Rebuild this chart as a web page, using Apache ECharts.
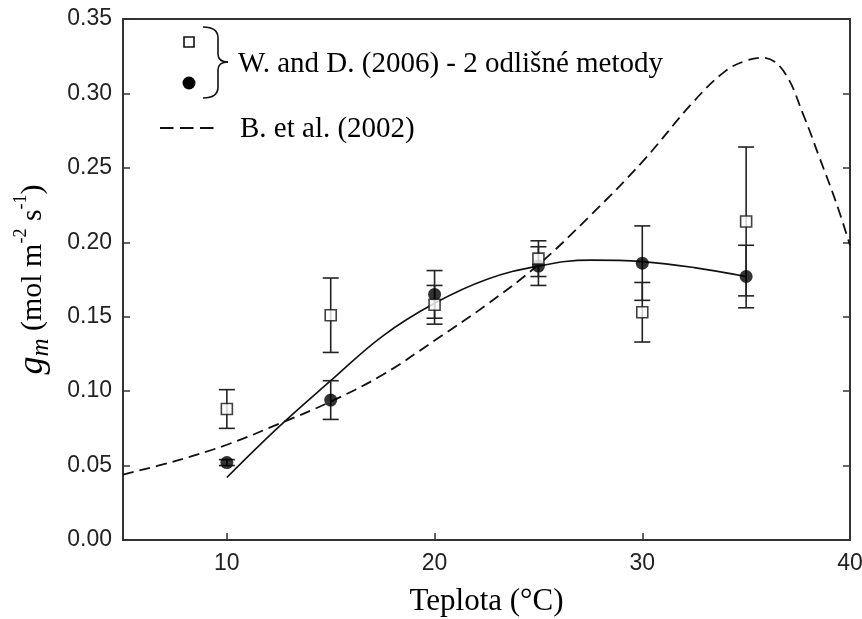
<!DOCTYPE html>
<html>
<head>
<meta charset="utf-8">
<script src="https://cdn.jsdelivr.net/npm/echarts@6/dist/echarts.min.js"></script>
<style>
  html, body { margin: 0; padding: 0; background: #fff; }
  #chart { width: 862px; height: 619px; }
</style>
</head>
<body>
<div id="chart"></div>
<script>
// measured points (W. and D. 2006), two methods
var temps = [10, 15, 20, 25, 30, 35];
var squareVals = [0.088, 0.151, 0.158, 0.189, 0.153, 0.214];
var squareErr = [0.013, 0.025, 0.013, 0.012, 0.020, 0.050];
var circleVals = [0.052, 0.094, 0.165, 0.184, 0.186, 0.177];
var circleErr = [0.002, 0.013, 0.016, 0.013, 0.025, 0.021];

// fitted curve through the filled points
var fitX = [10, 12.5, 15, 17.5, 20, 22.5, 25, 27.5, 30, 32.5, 35];
var fitY = [0.042, 0.076, 0.107, 0.137, 0.159, 0.175, 0.184, 0.188, 0.187, 0.183, 0.177];

// B. et al. (2002) model curve
var modelX = [5, 7.5, 10, 12.5, 15, 17.5, 20, 22.5, 25, 27.5, 30, 32.5, 34, 35, 35.8, 36.8, 37.8, 38.5, 39.3, 40];
var modelY = [0.044, 0.053, 0.064, 0.078, 0.093, 0.111, 0.134, 0.158, 0.185, 0.218, 0.254, 0.295, 0.315, 0.322, 0.324, 0.315, 0.284, 0.258, 0.228, 0.198];

var yTicks = ['0.00', '0.05', '0.10', '0.15', '0.20', '0.25', '0.30', '0.35'];

function pairs(xs, ys) {
  return xs.map(function (x, i) { return [x, ys[i]]; });
}
function triples(xs, ys, es) {
  return xs.map(function (x, i) { return [x, ys[i], es[i]]; });
}

function errorBars(params, api) {
  var x = api.value(0), y = api.value(1), e = api.value(2);
  var hi = api.coord([x, y + e]);
  var lo = api.coord([x, y - e]);
  var w = 8;
  var st = { stroke: '#222', lineWidth: 1.6 };
  return {
    type: 'group',
    children: [
      { type: 'line', shape: { x1: hi[0], y1: hi[1], x2: lo[0], y2: lo[1] }, style: st },
      { type: 'line', shape: { x1: hi[0] - w, y1: hi[1], x2: hi[0] + w, y2: hi[1] }, style: st },
      { type: 'line', shape: { x1: lo[0] - w, y1: lo[1], x2: lo[0] + w, y2: lo[1] }, style: st }
    ]
  };
}

var serif = 'Liberation Serif, Times New Roman, serif';
var sans = 'Liberation Sans, Arial, sans-serif';

// brace pieces for the legend
var braceStyle = { fill: 'none', stroke: '#111', lineWidth: 1.6 };
function curve(x1, y1, cx, cy, x2, y2) {
  return { type: 'bezierCurve', shape: { x1: x1, y1: y1, cpx1: cx, cpy1: cy, x2: x2, y2: y2 }, style: braceStyle };
}
function seg(x1, y1, x2, y2) {
  return { type: 'line', shape: { x1: x1, y1: y1, x2: x2, y2: y2 }, style: braceStyle };
}

var myChart = echarts.init(document.getElementById('chart'));

var option = {
  animation: false,
  backgroundColor: '#fff',
  grid: { left: 123, right: 12, top: 19, bottom: 79, containLabel: false, outerBoundsMode: 'none' },
  xAxis: [{
    type: 'value',
    min: 5, max: 40,
    position: 'bottom',
    axisLine: { show: true, onZero: false, lineStyle: { color: '#333', width: 2 } },
    axisTick: { show: true, inside: true, length: 7, lineStyle: { color: '#333', width: 1.5 }, customValues: [10, 20, 30] },
    axisLabel: {
      color: '#222', fontFamily: sans, fontSize: 23, margin: 12,
      customValues: [10, 20, 30, 40]
    },
    splitLine: { show: false },
    name: 'Teplota (°C)',
    nameLocation: 'middle',
    nameGap: 46,
    nameTextStyle: { fontFamily: serif, fontSize: 31, color: '#000' }
  }, {
    type: 'value',
    min: 5, max: 40,
    position: 'top',
    axisLine: { show: true, onZero: false, lineStyle: { color: '#333', width: 2 } },
    axisTick: { show: false },
    axisLabel: { show: false },
    splitLine: { show: false }
  }],
  yAxis: [{
    type: 'value',
    min: 0, max: 0.35,
    interval: 0.05,
    position: 'left',
    axisLine: { show: true, onZero: false, lineStyle: { color: '#333', width: 2 } },
    axisTick: { show: true, inside: true, length: 7, lineStyle: { color: '#333', width: 1.5 } },
    axisLabel: {
      color: '#222', fontFamily: sans, fontSize: 23, margin: 11,
      formatter: function (v) { return yTicks[Math.round(v / 0.05)]; }
    },
    splitLine: { show: false },
    name: '{g|g}{m|m}{t| (mol m}{sup|-2}{t| s}{sup|-1}{t|)}',
    nameLocation: 'middle',
    nameRotate: 90,
    nameGap: 69,
    nameTextStyle: {
      color: '#000',
      rich: {
        g: { fontFamily: serif, fontStyle: 'italic', fontSize: 36, color: '#000', lineHeight: 42, verticalAlign: 'middle' },
        m: { fontFamily: serif, fontStyle: 'italic', fontSize: 25, color: '#000', lineHeight: 42, verticalAlign: 'bottom' },
        t: { fontFamily: serif, fontSize: 30, color: '#000', lineHeight: 42, verticalAlign: 'middle' },
        sup: { fontFamily: serif, fontSize: 18, color: '#000', lineHeight: 42, verticalAlign: 'top' }
      }
    }
  }, {
    type: 'value',
    min: 0, max: 0.35,
    interval: 0.05,
    position: 'right',
    axisLine: { show: true, onZero: false, lineStyle: { color: '#333', width: 2 } },
    axisTick: { show: true, inside: true, length: 7, lineStyle: { color: '#333', width: 1.5 } },
    axisLabel: { show: false },
    splitLine: { show: false }
  }],
  series: [
    {
      name: 'B. et al. (2002)',
      type: 'line',
      data: pairs(modelX, modelY),
      smooth: 0.4,
      symbol: 'none',
      lineStyle: { color: '#111', width: 1.8, type: [11, 6] },
      z: 2
    },
    {
      name: 'fit',
      type: 'line',
      data: pairs(fitX, fitY),
      smooth: 0.4,
      symbol: 'none',
      lineStyle: { color: '#111', width: 1.6 },
      z: 2
    },
    {
      name: 'errC',
      type: 'custom',
      renderItem: errorBars,
      data: triples(temps, circleVals, circleErr),
      z: 3
    },
    {
      name: 'errS',
      type: 'custom',
      renderItem: errorBars,
      data: triples(temps, squareVals, squareErr),
      z: 3
    },
    {
      name: 'circles',
      type: 'scatter',
      data: pairs(temps, circleVals),
      symbol: 'circle',
      symbolSize: 13,
      itemStyle: { color: '#000' },
      z: 4
    },
    {
      name: 'squares',
      type: 'scatter',
      data: pairs(temps, squareVals),
      symbol: 'rect',
      symbolSize: 11,
      itemStyle: { color: '#fff', borderColor: '#111', borderWidth: 1.6 },
      z: 5
    }
  ],
  graphic: [
    { type: 'rect', shape: { x: 184, y: 37, width: 10, height: 10 }, style: { fill: '#fff', stroke: '#111', lineWidth: 1.6 } },
    { type: 'circle', shape: { cx: 189, cy: 83, r: 6.5 }, style: { fill: '#000' } },
    curve(203, 27, 218, 27, 218, 38),
    seg(218, 38, 218, 54),
    curve(218, 54, 218, 62, 228, 62),
    curve(228, 62, 218, 62, 218, 70),
    seg(218, 70, 218, 87),
    curve(218, 87, 218, 98, 203, 98),
    { type: 'text', x: 238, y: 64, style: { text: 'W. and D. (2006) - 2 odlišné metody', font: '29px ' + serif, fill: '#000', verticalAlign: 'middle' } },
    { type: 'line', shape: { x1: 160, y1: 128, x2: 214, y2: 128 }, style: { stroke: '#111', lineWidth: 1.8, lineDash: [13.5, 6.5] } },
    { type: 'text', x: 240, y: 129, style: { text: 'B. et al. (2002)', font: '29px ' + serif, fill: '#000', verticalAlign: 'middle' } }
  ]
};

myChart.setOption(option);
</script>
</body>
</html>
